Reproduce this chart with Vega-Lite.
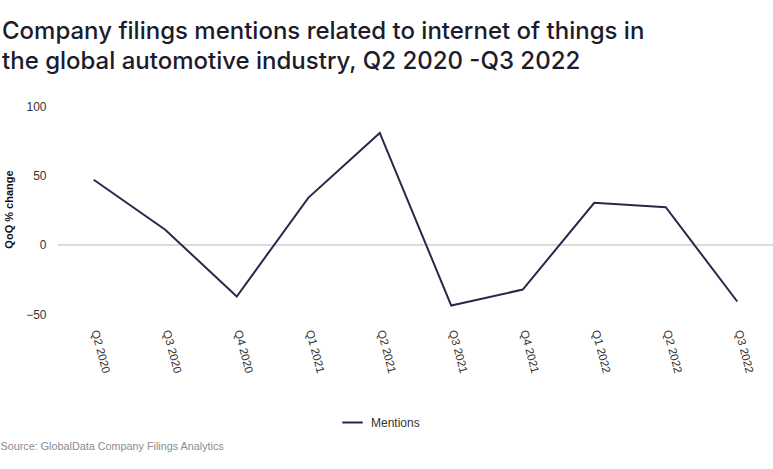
{
  "$schema": "https://vega.github.io/schema/vega-lite/v6.json",
  "autosize": "none",
  "width": 715,
  "height": 208,
  "padding": {"left": 58, "top": 106, "right": 0, "bottom": 155},
  "background": "white",
  "title": {
    "text": ["Company filings mentions related to internet of things in", "the global automotive industry, Q2 2020 -Q3 2022"],
    "anchor": "start",
    "frame": "group",
    "dx": -56,
    "offset": 2,
    "fontSize": 24,
    "font": "Inter",
    "fontWeight": 500,
    "color": "#1c1c2c",
    "lineHeight": 30,
    "baseline": "bottom"
  },
  "config": {
    "view": {"stroke": null},
    "font": "Liberation Sans"
  },
  "data": {
    "values": [
      {"quarter": "Q2 2020", "value": 46.8, "series": "Mentions"},
      {"quarter": "Q3 2020", "value": 10.8, "series": "Mentions"},
      {"quarter": "Q4 2020", "value": -37.4, "series": "Mentions"},
      {"quarter": "Q1 2021", "value": 33.8, "series": "Mentions"},
      {"quarter": "Q2 2021", "value": 80.6, "series": "Mentions"},
      {"quarter": "Q3 2021", "value": -43.9, "series": "Mentions"},
      {"quarter": "Q4 2021", "value": -32.4, "series": "Mentions"},
      {"quarter": "Q1 2022", "value": 30.2, "series": "Mentions"},
      {"quarter": "Q2 2022", "value": 27.0, "series": "Mentions"},
      {"quarter": "Q3 2022", "value": -41.0, "series": "Mentions"}
    ]
  },
  "layer": [
    {
      "mark": {"type": "rule", "color": "#d9d9d9", "strokeWidth": 1},
      "encoding": {"y": {"datum": 0, "type": "quantitative"}}
    },
    {
      "mark": {"type": "line", "strokeWidth": 2},
      "encoding": {
        "x": {
          "field": "quarter",
          "type": "ordinal",
          "sort": null,
          "scale": {"type": "point", "padding": 0.5},
          "axis": {
            "title": "Source: GlobalData Company Filings Analytics",
            "titleAnchor": "start",
            "titleAlign": "left",
            "titleX": -58,
            "titleY": 132,
            "titleBaseline": "middle",
            "titleFontSize": 10.8,
            "titleFontWeight": "normal",
            "titleColor": "#8c8c8c",
            "labelAngle": 75,
            "labelAlign": "left",
            "labelBaseline": "middle",
            "labelFontSize": 11.5,
            "labelColor": "#333333",
            "labelPadding": 16,
            "ticks": false,
            "domain": false,
            "grid": false
          }
        },
        "y": {
          "field": "value",
          "type": "quantitative",
          "scale": {"domain": [-50, 100], "nice": false},
          "axis": {
            "values": [-50, 0, 50, 100],
            "title": "QoQ % change",
            "titleFont": "Liberation Sans",
            "titleFontSize": 11,
            "titleFontWeight": "bold",
            "titleColor": "#111111",
            "titleX": -49,
            "titleY": 103,
            "titleBaseline": "middle",
            "titleAngle": -90,
            "labelFontSize": 12,
            "labelColor": "#333333",
            "labelPadding": 12,
            "ticks": false,
            "domain": false,
            "grid": false
          }
        },
        "color": {
          "field": "series",
          "type": "nominal",
          "scale": {"range": ["#28284a"]},
          "legend": {
            "title": null,
            "orient": "none",
            "legendX": 283,
            "legendY": 305,
            "symbolType": "stroke",
            "symbolSize": 420,
            "symbolStrokeWidth": 2,
            "labelFontSize": 12,
            "labelOffset": 7,
            "labelColor": "#333333"
          }
        }
      }
    }
  ]
}
